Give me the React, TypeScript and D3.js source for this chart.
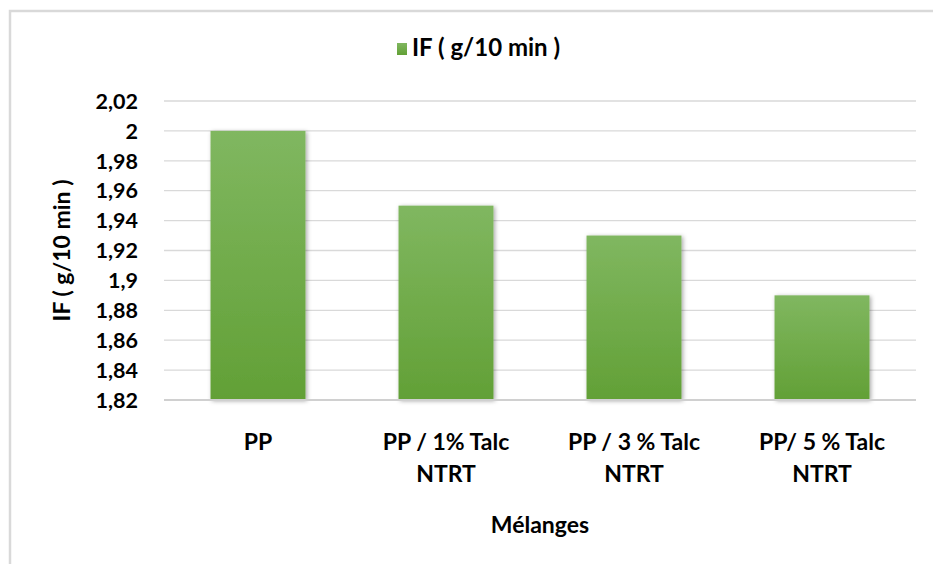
import React from "react";
import * as d3 from "d3";

// Melt flow index per blend
const categories: string[][] = [
  ["PP"],
  ["PP / 1% Talc", "NTRT"],
  ["PP / 3 % Talc", "NTRT"],
  ["PP/ 5 % Talc", "NTRT"],
];
const ifValues: number[] = [2.0, 1.95, 1.93, 1.89];
const yTicks: number[] = [1.82, 1.84, 1.86, 1.88, 1.9, 1.92, 1.94, 1.96, 1.98, 2.0, 2.02];
const seriesName = "IF ( g/10 min )";
const xTitle = "Mélanges";
const yTitle = "IF ( g/10 min )";

const W = 933;
const H = 564;
const plot = { left: 164, right: 916, top: 101, bottom: 400 };
const FONT = "Lato, 'Open Sans', sans-serif";

const fmt = (v: number) => d3.format("~g")(+v.toFixed(2)).replace(".", ",");

export default function App() {
  const x = d3
    .scaleBand<number>()
    .domain(d3.range(categories.length))
    .range([plot.left, plot.right])
    .paddingInner(0.495)
    .paddingOuter(0.2475);
  const y = d3.scaleLinear().domain([1.82, 2.02]).range([plot.bottom, plot.top]);

  return (
    <svg
      width={W}
      height={H}
      viewBox={`0 0 ${W} ${H}`}
      style={{ position: "absolute", left: 0, top: 0, background: "#fff" }}
      fontFamily={FONT}
      fontWeight="bold"
    >
      <defs>
        <linearGradient id="barFill" x1="0" y1="0" x2="0" y2="1">
          <stop offset="0%" stopColor="#80b760" />
          <stop offset="100%" stopColor="#62a036" />
        </linearGradient>
        <filter id="barShadow" x="-20%" y="-10%" width="140%" height="120%">
          <feDropShadow dx="1.5" dy="1" stdDeviation="2" floodColor="#000" floodOpacity="0.35" />
        </filter>
      </defs>

      {/* chart area frame */}
      <rect x={10} y={11} width={W + 20} height={H + 20} fill="#fff" stroke="#d9d9d9" strokeWidth={2.5} />

      {/* legend */}
      <rect x={397} y={43} width={10} height={12} fill="url(#barFill)" />
      <text x={412} y={56} fontSize={24} fill="#000">
        {seriesName}
      </text>

      {/* gridlines */}
      {yTicks.slice(1).map((t) => (
        <line
          key={t}
          x1={plot.left}
          x2={plot.right}
          y1={y(t)}
          y2={y(t)}
          stroke="#d9d9d9"
          strokeWidth={1.3}
        />
      ))}

      {/* bars */}
      {ifValues.map((v, i) => (
        <rect
          key={i}
          x={x(i)}
          y={y(v)}
          width={x.bandwidth()}
          height={y(1.82) - y(v)}
          fill="url(#barFill)"
          filter="url(#barShadow)"
        />
      ))}

      {/* category axis line */}
      <line x1={plot.left} x2={plot.right} y1={y(1.82)} y2={y(1.82)} stroke="#d0d0d0" strokeWidth={2.2} />

      {/* y tick labels */}
      {yTicks.map((t) => (
        <text
          key={t}
          x={138}
          y={y(t)}
          dy="0.36em"
          textAnchor="end"
          fontSize={21.5}
          fill="#000"
        >
          {fmt(t)}
        </text>
      ))}

      {/* category labels */}
      {categories.map((lines, i) => (
        <text key={i} textAnchor="middle" fontSize={23} fill="#000">
          {lines.map((l, j) => (
            <tspan key={j} x={(x(i) as number) + x.bandwidth() / 2} y={449.5 + j * 32.5}>
              {l}
            </tspan>
          ))}
        </text>
      ))}

      {/* axis titles */}
      <text x={(plot.left + plot.right) / 2} y={533} textAnchor="middle" fontSize={23} fill="#000">
        {xTitle}
      </text>
      <text
        transform={`translate(70, ${(plot.top + plot.bottom) / 2}) rotate(-90)`}
        textAnchor="middle"
        fontSize={23}
        fill="#000"
      >
        {yTitle}
      </text>
    </svg>
  );
}
